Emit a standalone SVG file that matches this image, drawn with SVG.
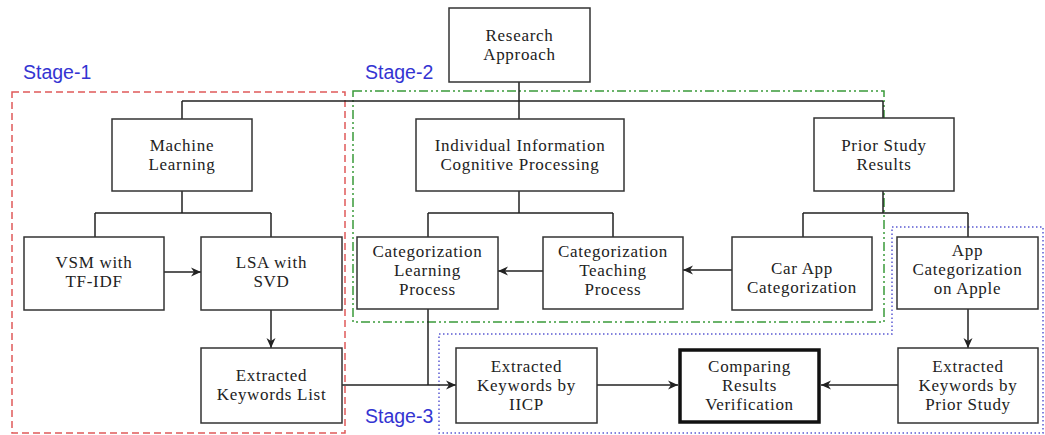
<svg xmlns="http://www.w3.org/2000/svg" width="1045" height="435" viewBox="0 0 1045 435">
<style>
.box{fill:#fff;stroke:#333;stroke-width:1.5}
.bold{fill:#fff;stroke:#111;stroke-width:3.5}
.t{font-family:"Liberation Serif","Times New Roman",serif;font-size:17px;letter-spacing:0.7px;fill:#222;text-anchor:middle}
.stage{font-family:"Liberation Sans",Arial,sans-serif;font-size:19.5px;fill:#3434d2}
.c{fill:none;stroke:#222;stroke-width:1.5}
</style>
<defs>
<marker id="ah" viewBox="0 0 10 10" refX="10" refY="5" markerWidth="10" markerHeight="10" markerUnits="userSpaceOnUse" orient="auto">
<path d="M0,0.5 L10,5 L0,9.5 L3,5 z" fill="#222"/>
</marker>
</defs>
<rect width="1045" height="435" fill="#fff"/>
<g id="regions">
<rect x="12" y="92" width="333" height="341" fill="none" stroke="#e05a5a" stroke-width="1.5" stroke-dasharray="7 4"/>
<rect x="353" y="91" width="531" height="231" fill="none" stroke="#3a9a3a" stroke-width="1.5" stroke-dasharray="9 3 2 3 2 3"/>
<path d="M892,227 H1043 V433 H439 V334 H892 Z" fill="none" stroke="#5a5ad2" stroke-width="1.5" stroke-dasharray="1.5 2.5"/>
<text class="stage" x="23" y="79">Stage-1</text>
<text class="stage" x="365" y="79">Stage-2</text>
<text class="stage" x="365" y="423">Stage-3</text>
</g>
<g id="connectors">
<path class="c" d="M519,82 V119 M182,101 H883 M182,101 V119 M883,101 V118"/>
<path class="c" d="M182,191 V213 M95,213 H271 M95,213 V237 M271,213 V237"/>
<path class="c" d="M519,191 V213 M428,213 H613 M428,213 V237 M613,213 V237"/>
<path class="c" d="M883,191 V213 M803,213 H968 M803,213 V237 M968,213 V237"/>
<path class="c" d="M164,272 H201" marker-end="url(#ah)"/>
<path class="c" d="M271,310 V348" marker-end="url(#ah)"/>
<path class="c" d="M543,271 H498" marker-end="url(#ah)"/>
<path class="c" d="M732,270 H683" marker-end="url(#ah)"/>
<path class="c" d="M428,309 V385"/>
<path class="c" d="M342,385 H456" marker-end="url(#ah)"/>
<path class="c" d="M597,385 H678" marker-end="url(#ah)"/>
<path class="c" d="M898,385 H821" marker-end="url(#ah)"/>
<path class="c" d="M968,309 V348" marker-end="url(#ah)"/>
</g>
<g id="research-approach">
<rect class="box" x="449" y="8" width="141" height="74"/>
<text class="t" x="519.5" y="41">Research</text>
<text class="t" x="519.5" y="60">Approach</text>
</g>
<g id="machine-learning">
<rect class="box" x="112" y="119" width="140" height="72"/>
<text class="t" x="182" y="151">Machine</text>
<text class="t" x="182" y="170">Learning</text>
</g>
<g id="iicp">
<rect class="box" x="416" y="119" width="208" height="72"/>
<text class="t" x="520" y="151">Individual Information</text>
<text class="t" x="520" y="170">Cognitive Processing</text>
</g>
<g id="prior-study">
<rect class="box" x="814" y="118" width="140" height="73"/>
<text class="t" x="884" y="151">Prior Study</text>
<text class="t" x="884" y="170">Results</text>
</g>
<g id="vsm">
<rect class="box" x="24" y="237" width="140" height="73"/>
<text class="t" x="94" y="268">VSM with</text>
<text class="t" x="94" y="287">TF-IDF</text>
</g>
<g id="lsa">
<rect class="box" x="201" y="237" width="141" height="73"/>
<text class="t" x="271.5" y="268">LSA with</text>
<text class="t" x="271.5" y="287">SVD</text>
</g>
<g id="cat-learning">
<rect class="box" x="357" y="237" width="141" height="72"/>
<text class="t" x="427.5" y="257">Categorization</text>
<text class="t" x="427.5" y="276">Learning</text>
<text class="t" x="427.5" y="295">Process</text>
</g>
<g id="cat-teaching">
<rect class="box" x="543" y="237" width="140" height="72"/>
<text class="t" x="613" y="257">Categorization</text>
<text class="t" x="613" y="276">Teaching</text>
<text class="t" x="613" y="295">Process</text>
</g>
<g id="car-app">
<rect class="box" x="732" y="237" width="140" height="73"/>
<text class="t" x="802" y="274">Car App</text>
<text class="t" x="802" y="293">Categorization</text>
</g>
<g id="app-apple">
<rect class="box" x="897" y="237" width="141" height="72"/>
<text class="t" x="967.5" y="256">App</text>
<text class="t" x="967.5" y="275">Categorization</text>
<text class="t" x="967.5" y="294">on Apple</text>
</g>
<g id="keywords-list">
<rect class="box" x="201" y="348" width="141" height="75"/>
<text class="t" x="271.5" y="381">Extracted</text>
<text class="t" x="271.5" y="400">Keywords List</text>
</g>
<g id="keywords-iicp">
<rect class="box" x="456" y="348" width="141" height="75"/>
<text class="t" x="526.5" y="372">Extracted</text>
<text class="t" x="526.5" y="391">Keywords by</text>
<text class="t" x="526.5" y="410">IICP</text>
</g>
<g id="comparing">
<rect class="bold" x="680" y="350" width="139" height="72"/>
<text class="t" x="749.5" y="372">Comparing</text>
<text class="t" x="749.5" y="391">Results</text>
<text class="t" x="749.5" y="410">Verification</text>
</g>
<g id="keywords-prior">
<rect class="box" x="898" y="348" width="140" height="75"/>
<text class="t" x="968" y="372">Extracted</text>
<text class="t" x="968" y="391">Keywords by</text>
<text class="t" x="968" y="410">Prior Study</text>
</g>
</svg>
